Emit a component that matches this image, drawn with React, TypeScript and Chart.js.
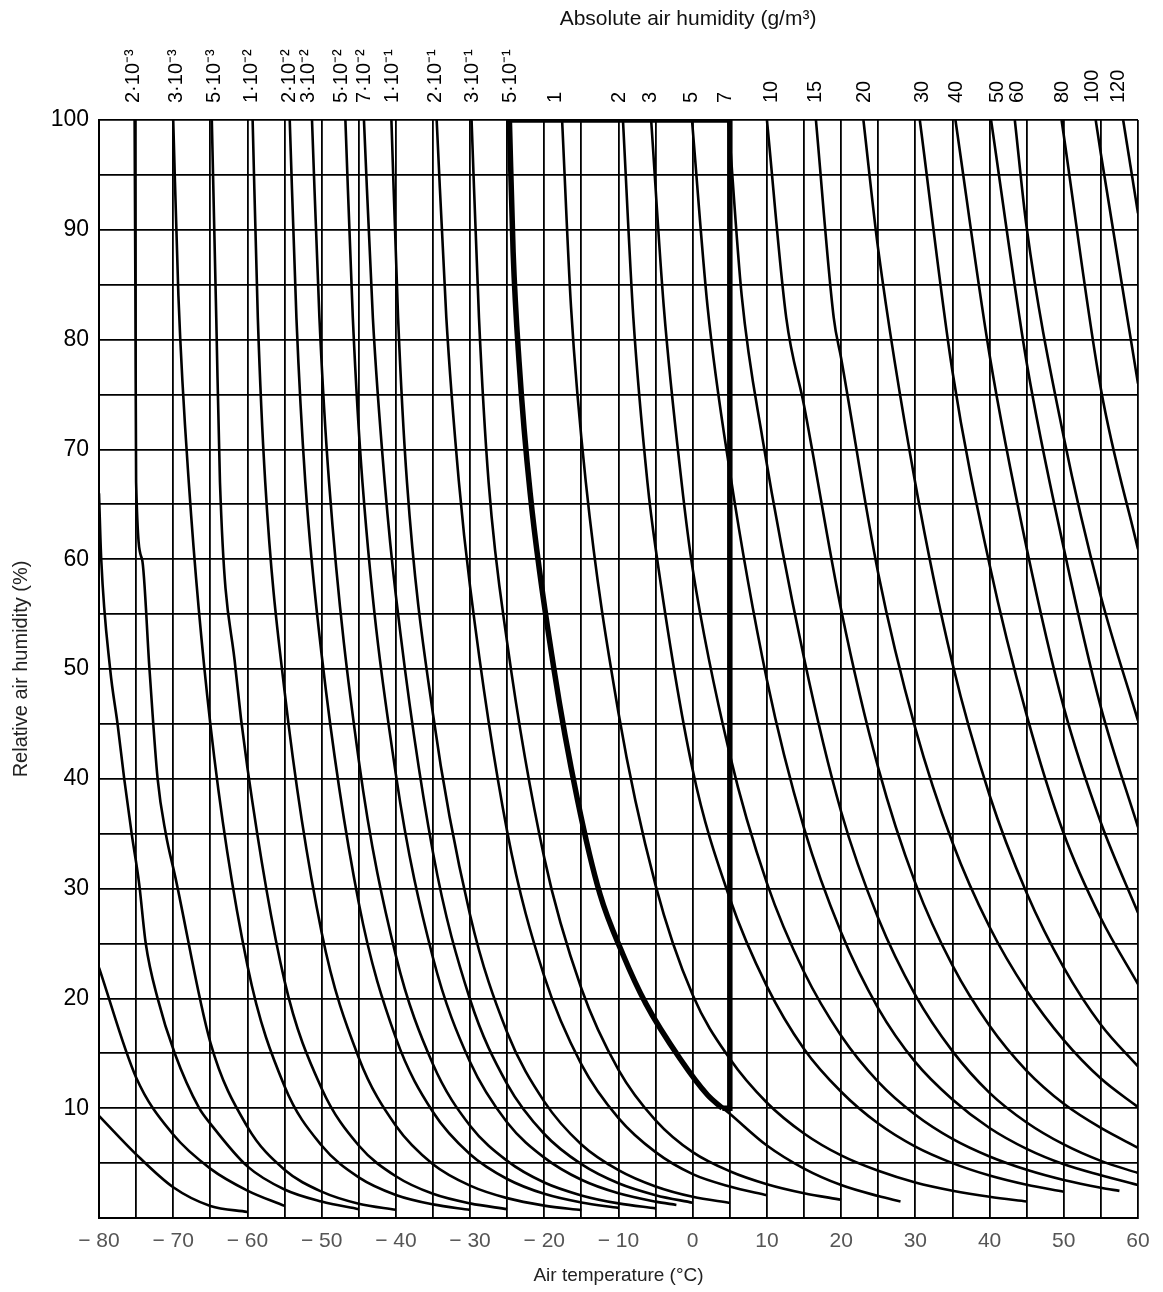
import React, { useEffect, useRef } from 'react';
import { Chart, registerables } from 'chart.js';

Chart.register(...registerables);

// ---- axis ranges / ticks ----
const tempRange = [-80, 60];
const rhRange = [0, 100];
const xLabelValues = [-80, -70, -60, -50, -40, -30, -20, -10, 0, 10, 20, 30, 40, 50, 60];
const xLabelTexts = ['\u2212 80', '\u2212 70', '\u2212 60', '\u2212 50', '\u2212 40', '\u2212 30', '\u2212 20', '\u2212 10', '0', '10', '20', '30', '40', '50', '60'];
const yLabelValues = [10, 20, 30, 40, 50, 60, 70, 80, 90, 100];

// ---- top labels: absolute humidity (g/m3) at the temperature where each curve meets 100 % ----
const topLabels = ['2\u00b710\u207b\u00b3', '3\u00b710\u207b\u00b3', '5\u00b710\u207b\u00b3', '1\u00b710\u207b\u00b2', '2\u00b710\u207b\u00b2', '3\u00b710\u207b\u00b2', '5\u00b710\u207b\u00b2', '7\u00b710\u207b\u00b2', '1\u00b710\u207b\u00b9', '2\u00b710\u207b\u00b9', '3\u00b710\u207b\u00b9', '5\u00b710\u207b\u00b9', '1', '2', '3', '5', '7', '10', '15', '20', '30', '40', '50', '60', '80', '100', '120'];
const topLabelTemps = [-75.3, -69.6, -64.5, -59.4, -54.4, -51.8, -47.3, -44.2, -40.5, -34.6, -29.7, -24.5, -18.5, -9.8, -5.7, -0.1, 4.4, 10.6, 16.6, 23.1, 31.0, 35.5, 41.0, 43.8, 49.8, 53.9, 57.4];

// ---- curves of constant absolute humidity: [air temperature, relative humidity] ----
const cLow3 = [[-80, 9.3], [-75, 5.8], [-70, 2.8], [-65, 1.1], [-60, 0.55]];
const cLow2 = [[-80, 22.8], [-75, 12.8], [-70, 7.6], [-65, 4.5], [-60, 2.5], [-55, 1.1]];
const cLow1 = [[-80, 66], [-79.7, 60], [-78.5, 50], [-77.5, 45], [-76.6, 40], [-75.6, 35], [-74.6, 30.5], [-73.7, 25], [-72.1, 20], [-69.8, 15], [-66.5, 10], [-65, 8.6], [-60, 4.7], [-55, 2.6], [-50, 1.5], [-45, 0.8]];
const c2e3 = [[-75.2, 100], [-75.1, 85], [-75.0, 67], [-74.2, 60], [-73.2, 50], [-72.1, 40], [-71, 35], [-69.7, 31], [-65, 16], [-60, 8.3], [-55, 4.4], [-50, 2.4], [-45, 1.3], [-40, 0.75]];
const c3e3 = [[-70, 100], [-69.3, 84], [-67.9, 67], [-65, 45], [-60, 23], [-55, 12], [-50, 6.6], [-45, 3.7], [-40, 2.1], [-35, 1.24], [-30, 0.74]];
const c5e3 = [[-64.8, 100], [-64.2, 82], [-63.7, 67], [-61.6, 50], [-60, 41], [-55, 21.6], [-50, 11.8], [-45, 6.6], [-40, 3.8], [-35, 2.2], [-30, 1.33], [-25, 0.81]];
const c1e2 = [[-59.3, 100], [-58.6, 82], [-57.6, 67], [-55, 48], [-50, 26], [-45, 14.6], [-40, 8.4], [-35, 4.9], [-30, 2.95], [-25, 1.81], [-20, 1.13], [-15, 0.72]];
const c2e2 = [[-54.3, 100], [-53.4, 82], [-52.2, 67], [-50, 51.3], [-45, 28.7], [-40, 16.4], [-35, 9.65], [-30, 5.8], [-25, 3.55], [-20, 2.2], [-15, 1.41], [-10, 0.92]];
const c3e2 = [[-51.3, 100], [-50.3, 82], [-49, 67], [-45, 41.7], [-40, 23.9], [-35, 14], [-30, 8.4], [-25, 5.2], [-20, 3.23], [-15, 2.06], [-10, 1.33], [-5, 0.88]];
const c5e2 = [[-46.8, 100], [-45.8, 82], [-44.5, 67], [-40, 40.4], [-35, 23.7], [-30, 14.2], [-25, 8.7], [-20, 5.5], [-15, 3.48], [-10, 2.25], [-5, 1.49], [-2.2, 1.19]];
const c7e2 = [[-44.3, 100], [-43.1, 82], [-41.5, 67], [-40, 56.7], [-35, 33.3], [-30, 19.9], [-25, 12.2], [-20, 7.65], [-15, 4.9], [-10, 3.16], [-5, 2.08], [0, 1.39]];
const c1e1 = [[-40.6, 100], [-39.7, 82], [-38.5, 67], [-35, 45.9], [-30, 27.6], [-25, 16.9], [-20, 10.6], [-15, 6.7], [-10, 4.36], [-5, 2.87], [0, 1.93], [5, 1.37]];
const c2e1 = [[-34.5, 100], [-33.2, 82], [-31.5, 67], [-30, 57.5], [-25, 35.2], [-20, 22], [-15, 14], [-10, 9.1], [-5, 6], [0, 4], [5, 2.87], [10, 2.07]];
const c3e1 = [[-29.8, 100], [-28.8, 82], [-27.5, 67], [-25, 52.4], [-20, 32.8], [-15, 20.9], [-10, 13.5], [-5, 8.9], [0, 6], [5, 4.26], [10, 3.08], [15, 2.26], [20, 1.67]];
const c5e1 = [[-24.7, 100], [-24.2, 88], [-23.4, 78], [-21.9, 66], [-18.7, 50], [-15.5, 38], [-12.5, 29.5], [-9.4, 24], [-6.3, 19.5], [-1.7, 14.5], [2, 11.2], [5, 9.5], [10, 6.6], [15, 4.5], [20, 3.0], [25, 2.0], [28, 1.5]];
const c1 = [[-17.6, 100], [-16.4, 83], [-14.4, 67], [-10, 46], [-5, 30.3], [0, 20.3], [5, 14.5], [10, 10.5], [15, 7.7], [20, 5.7], [25, 4.3], [30, 3.24], [35, 2.49], [40, 1.93], [45, 1.51]];
const c2 = [[-9.4, 100], [-8, 82], [-6.1, 67], [-5, 61], [0, 40.8], [5, 29.1], [10, 21.1], [15, 15.4], [20, 11.5], [25, 8.6], [30, 6.5], [35, 5], [40, 3.87], [45, 3.03], [50, 2.39]];
const c3 = [[-5.6, 100], [-3.9, 83], [-1.5, 67], [0, 59.1], [5, 42.2], [10, 30.5], [15, 22.4], [20, 16.6], [25, 12.4], [30, 9.4], [35, 7.2], [40, 5.6], [45, 4.39], [50, 3.46], [55, 2.75], [57.5, 2.47]];
const c5 = [[-0.1, 100], [2, 83], [5, 68], [10, 49], [15, 35.5], [20, 26], [25, 19.1], [30, 14.2], [35, 10.8], [40, 8.2], [45, 6.3], [50, 4.9], [55, 3.9], [60, 3.0]];
const c7 = [[4.8, 100], [6.6, 84], [9.4, 71], [15, 51], [20, 37], [25, 27.3], [30, 20.3], [35, 15.2], [40, 11.4], [45, 8.7], [50, 6.7], [55, 5.2], [60, 4.1]];
const c10 = [[10, 100], [12.6, 82], [15, 74], [20, 55.4], [25, 41], [30, 30.5], [35, 23], [40, 17.5], [45, 13.4], [50, 10.4], [55, 8.2], [60, 6.4]];
const c15 = [[16.6, 100], [19, 82], [20, 78.3], [25, 58.7], [30, 44.6], [35, 34.2], [40, 26.5], [45, 20.7], [50, 16.2], [55, 12.7], [60, 10.1]];
const c20 = [[23, 100], [25, 88.2], [30, 66.9], [35, 50.5], [40, 38.5], [45, 29.6], [50, 22.8], [55, 17.6], [60, 13.8]];
const c30 = [[30.6, 100], [35, 77.1], [40, 59.5], [45, 45.8], [50, 35], [55, 27.3], [60, 21.3]];
const c40 = [[35.4, 100], [40, 78.6], [45, 61], [50, 46.5], [55, 36], [60, 27.8]];
const c50 = [[40.2, 100], [45, 77.9], [50, 61], [55, 46.5], [60, 35.6]];
const c60 = [[43.4, 100], [45, 90.2], [50, 71.1], [55, 56.6], [60, 45.3]];
const c80 = [[49.7, 100], [55, 75.5], [60, 60.9]];
const c100 = [[54.3, 100], [55, 96.9], [60, 76]];
const c120 = [[58, 100], [60, 91.5]];

// ---- the bold outlined region ----
const boldCurve = [[-24.7, 100], [-24.2, 88], [-23.4, 78], [-21.9, 66], [-18.7, 50], [-15.5, 38], [-12.5, 29.5], [-9.4, 24], [-6.3, 19.5], [-1.7, 14.5], [2, 11.2], [4, 10]];
const boldFrame = [[4, 10], [5, 10], [5, 100], [-24.7, 100]];

const allCurves = [cLow3, cLow2, cLow1, c2e3, c3e3, c5e3, c1e2, c2e2, c3e2, c5e2, c7e2, c1e1, c2e1, c3e1, c5e1, c1, c2, c3, c5, c7, c10, c15, c20, c30, c40, c50, c60, c80, c100, c120];

const FONT = '"Liberation Sans", Arial, Helvetica, sans-serif';

const toXY = (pts: number[][]) => pts.map(([x, y]) => ({ x, y }));

const topLabelPlugin = {
  id: 'topLabels',
  afterDraw(chart: any) {
    const ctx = chart.ctx;
    const xs = chart.scales.x;
    const top = chart.chartArea.top;
    ctx.save();
    ctx.fillStyle = '#000';
    ctx.font = `20px ${FONT}`;
    ctx.textAlign = 'left';
    ctx.textBaseline = 'middle';
    topLabels.forEach((lab, i) => {
      const x = xs.getPixelForValue(topLabelTemps[i]);
      ctx.save();
      ctx.translate(x, top - 17);
      ctx.rotate(-Math.PI / 2);
      ctx.fillText(lab, 0, 0);
      ctx.restore();
    });
    ctx.font = `21px ${FONT}`;
    ctx.fillStyle = '#111';
    ctx.textAlign = 'center';
    ctx.fillText('Absolute air humidity (g/m\u00b3)', 688, 19);
    ctx.restore();
  },
};

export default function App() {
  const ref = useRef<HTMLCanvasElement | null>(null);
  useEffect(() => {
    if (!ref.current) return;
    const datasets: any[] = allCurves.map((c) => ({
      data: toXY(c),
      borderColor: '#000',
      borderWidth: 2.6,
      pointRadius: 0,
      cubicInterpolationMode: 'monotone',
      fill: false,
    }));
    datasets.push({
      data: toXY(boldCurve),
      borderColor: '#000',
      borderWidth: 5.5,
      pointRadius: 0,
      cubicInterpolationMode: 'monotone',
      fill: false,
    });
    datasets.push({
      data: toXY(boldFrame),
      borderColor: '#000',
      borderWidth: 5.5,
      pointRadius: 0,
      tension: 0,
      fill: false,
      borderJoinStyle: 'miter',
    });
    const chart = new Chart(ref.current, {
      type: 'line',
      data: { datasets },
      plugins: [topLabelPlugin],
      options: {
        responsive: false,
        animation: false,
        events: [],
        layout: { padding: { top: 120, right: 25, left: 0, bottom: 0 } },
        plugins: { legend: { display: false }, tooltip: { enabled: false } },
        scales: {
          x: {
            type: 'linear',
            min: tempRange[0],
            max: tempRange[1],
            afterFit: (s: any) => { s.height = 74; },
            ticks: {
              stepSize: 5,
              autoSkip: false,
              maxRotation: 0,
              padding: 11,
              color: '#555',
              font: { family: FONT, size: 21 },
              callback: (v: any) => {
                const i = xLabelValues.indexOf(Number(v));
                return i >= 0 ? xLabelTexts[i] : '';
              },
            },
            grid: { color: '#000', lineWidth: 1.8, drawTicks: false },
            border: { color: '#000', width: 2 },
            title: {
              display: true,
              text: 'Air temperature (\u00b0C)',
              color: '#222',
              font: { family: FONT, size: 19 },
              padding: { top: 0, bottom: 5 },
            },
          },
          y: {
            type: 'linear',
            min: rhRange[0],
            max: rhRange[1],
            afterFit: (s: any) => { s.width = 99; },
            ticks: {
              stepSize: 5,
              autoSkip: false,
              padding: 10,
              color: '#000',
              font: { family: FONT, size: 23 },
              callback: (v: any) => (yLabelValues.includes(Number(v)) ? String(v) : ''),
            },
            grid: { color: '#000', lineWidth: 1.8, drawTicks: false },
            border: { color: '#000', width: 2 },
            title: {
              display: true,
              text: 'Relative air humidity (%)',
              color: '#222',
              font: { family: FONT, size: 20 },
              padding: { top: 9, bottom: 0 },
            },
          },
        },
      } as any,
    });
    return () => chart.destroy();
  }, []);
  return (
    <div style={{ position: 'absolute', left: 0, top: 0, width: 1163, height: 1292, background: '#fff' }}>
      <canvas ref={ref} width={1163} height={1292} />
    </div>
  );
}
